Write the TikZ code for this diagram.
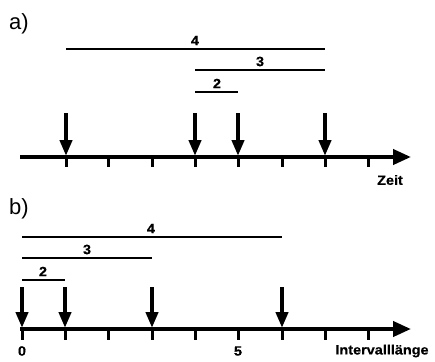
\documentclass[tikz,border=0pt]{standalone}
\usepackage{fontspec}
\setmainfont{Liberation Sans}
\newfontfamily\labfont[FakeStretch=1.07,BoldFeatures={FakeBold=0.4}]{Liberation Sans}
\newfontfamily\panfont{Liberation Sans}
\usetikzlibrary{arrows.meta}
\begin{document}
\begin{tikzpicture}[x=1pt,y=-1pt,
  axis/.style={line width=4pt,-{Triangle[width=15pt,length=18pt]}},
  tickmark/.style={line width=3pt},
  event/.style={line width=4pt,-{Triangle[width=12pt,length=16pt]},shorten >=-1pt},
  span/.style={line width=2pt},
  num/.style={font=\labfont\bfseries\fontsize{13.5}{15}\selectfont,inner sep=0pt},
  panel/.style={font=\panfont\fontsize{22}{24}\selectfont,inner sep=0pt,anchor=west}]
\useasboundingbox (0,0) rectangle (435,361);
% panel a
\node[panel] (la) at (9,24) {a)};
\coordinate (a0) at (20,157);
\coordinate (aend) at (411,157);
\draw[axis] (a0) -- (aend);
\foreach \x in {66,108,152,195,238,282,325,368}{
  \draw[tickmark] (\x,157) -- (\x,167);}
\foreach \x/\n in {66/a1,195/a2,238/a3,325/a4}{
  \coordinate (\n t) at (\x,113);
  \coordinate (\n b) at (\x,155);
  \draw[event] (\n t) -- (\n b);}
\coordinate (s4l) at (66,49); \coordinate (s4r) at (325,49);
\coordinate (s3l) at (195,70); \coordinate (s3r) at (325,70);
\coordinate (s2l) at (195,92); \coordinate (s2r) at (238,92);
\draw[span] (s4l) -- (s4r);
\draw[span] (s3l) -- (s3r);
\draw[span] (s2l) -- (s2r);
\node[num] (n4a) at (195,40.5) {4};
\node[num] (n3a) at (260,61.5) {3};
\node[num] (n2a) at (217,83.5) {2};
\node[num] (zeit) at (390,180) {Zeit};
% panel b
\node[panel] (lb) at (9,209) {b)};
\coordinate (b0) at (20,329);
\coordinate (bend) at (411,329);
\draw[axis] (b0) -- (bend);
\foreach \x in {22,65,108,152,195,238,282,325,368}{
  \draw[tickmark] (\x,329) -- (\x,340);}
\foreach \x/\n in {22/b1,65/b2,152/b3,282/b4}{
  \coordinate (\n t) at (\x,287);
  \coordinate (\n b) at (\x,327);
  \draw[event] (\n t) -- (\n b);}
\coordinate (t4l) at (22,237); \coordinate (t4r) at (282,237);
\coordinate (t3l) at (22,258); \coordinate (t3r) at (152,258);
\coordinate (t2l) at (22,280); \coordinate (t2r) at (65,280);
\draw[span] (t4l) -- (t4r);
\draw[span] (t3l) -- (t3r);
\draw[span] (t2l) -- (t2r);
\node[num] (n4b) at (151,228.5) {4};
\node[num] (n3b) at (87,249.5) {3};
\node[num] (n2b) at (43,271.5) {2};
\node[num] (z0) at (22,351) {0};
\node[num] (z5) at (238,351) {5};
\node[num] (il) at (382,351) {Intervalllänge};
\end{tikzpicture}
\end{document}
